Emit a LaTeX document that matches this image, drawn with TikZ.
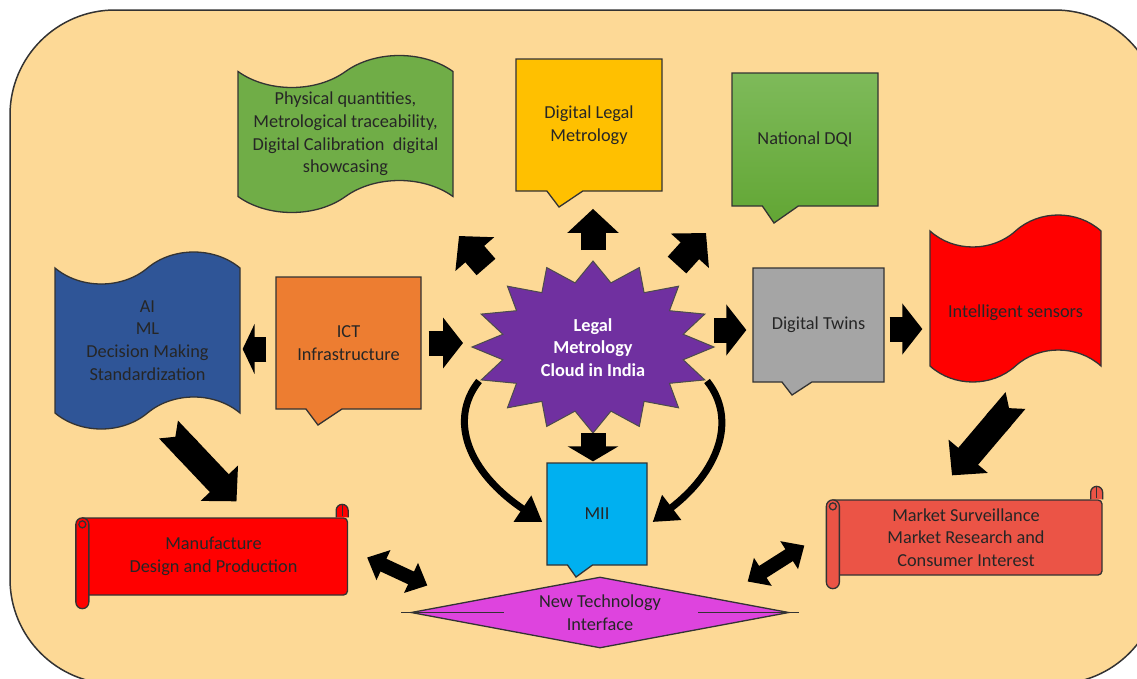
\documentclass[tikz,border=0pt]{standalone}
\usepackage{fontspec}
\setmainfont{Carlito}
\usetikzlibrary{arrows.meta,shapes.callouts,shapes.symbols,shapes.geometric,calc}
\definecolor{bgorange}{RGB}{253,217,150}
\definecolor{physgreen}{RGB}{112,173,71}
\definecolor{dlmyellow}{RGB}{255,192,0}
\definecolor{dqitop}{RGB}{126,186,90}
\definecolor{dqibot}{RGB}{98,166,52}
\definecolor{ictorange}{RGB}{237,125,49}
\definecolor{aiblue}{RGB}{47,85,151}
\definecolor{cloudpurple}{RGB}{112,48,160}
\definecolor{twinsgray}{RGB}{165,165,165}
\definecolor{sensorred}{RGB}{255,0,0}
\definecolor{miiblue}{RGB}{0,176,240}
\definecolor{ntimagenta}{RGB}{222,68,222}
\definecolor{marketred}{RGB}{235,84,70}
\newcommand{\lblfont}{\fontsize{18.3}{22.7}\selectfont}
\tikzset{
  callbox/.style={rectangle callout, draw=black!80, line width=1.3pt, font=\lblfont,
              text=black!85, align=center, inner sep=0pt, callout pointer width=36pt},
  wavebox/.style={tape, draw=black!80, line width=1.3pt, font=\lblfont, text=black!85,
              align=center, inner sep=0pt, tape bend height=32pt},
  scrollbox/.style={rectangle, draw=black!80, line width=1.3pt, rounded corners=4pt,
              font=\lblfont, text=black!85, align=center, inner sep=0pt},
  edgeline/.style={draw=black!80, line width=1.3pt},
  bigarrow/.style={line width=25pt, -{Triangle[length=20pt,width=50pt]}},
  notcharrow/.style={line width=26pt, {Triangle Cap[reversed,length=10pt]}-{Triangle[length=25pt,width=50pt]}},
  dblarrow/.style={line width=14pt, {Triangle[length=18pt,width=32pt]}-{Triangle[length=18pt,width=32pt]}},
  bendarrow/.style={line width=7pt, -{Triangle[length=24pt,width=30pt]}},
}

\begin{document}
\begin{tikzpicture}[x=1pt, y=-1pt]
  \useasboundingbox (0,0) rectangle (1137,678);
  \begin{scope}
    \clip (0,0) rectangle (1137,678);
    \draw[fill=bgorange, draw=black!80, line width=1.5pt, rounded corners=105pt] (10,10) rectangle (1160,684);
  \end{scope}

  % top row
  \node[wavebox, fill=physgreen, minimum width=215pt, minimum height=157pt] (phys) at (345.5,134)
    {Physical quantities,\\Metrological traceability,\\Digital Calibration\ \ digital\\showcasing};
  \node[callbox, fill=dlmyellow, minimum width=146pt, minimum height=132pt,
        callout absolute pointer={(559,207)}] (dlm) at (589,125) {Digital Legal\\Metrology};
  \node[callbox, top color=dqitop, bottom color=dqibot, minimum width=146pt, minimum height=133pt,
        callout absolute pointer={(774,223)}] (dqi) at (805,139.5) {National DQI};

  % middle row
  \node[wavebox, fill=aiblue, minimum width=185pt, minimum height=177pt] (aiml) at (147.5,340.5)
    {AI\\ML\\Decision Making\\Standardization};
  \node[callbox, fill=ictorange, minimum width=145pt, minimum height=132pt,
        callout absolute pointer={(318,425)}] (ict) at (348.5,343) {ICT\\Infrastructure};

  \filldraw[fill=cloudpurple, draw=black!70, line width=1pt]
    plot[samples=33, domain=0:32, variable=\k]
      ({593+121*(mod(round(\k),2)==0 ? 1 : 0.76)*sin(\k*11.25)},
       {347-86*(mod(round(\k),2)==0 ? 1 : 0.76)*cos(\k*11.25)}) -- cycle;
  \coordinate (cloudN) at (593,261);
  \coordinate (cloudS) at (593,433);
  \coordinate (cloudW) at (472,347);
  \coordinate (cloudE) at (714,347);
  \coordinate (cloudSW) at (479,381);
  \coordinate (cloudSE) at (707,381);
  \node[font=\lblfont\bfseries, text=white, align=center] (cloud) at (593,347.5)
    {Legal\\Metrology\\Cloud in India};

  \node[callbox, fill=twinsgray, minimum width=131pt, minimum height=114pt, callout pointer width=30pt,
        callout absolute pointer={(792,395)}] (twins) at (818.5,325) {Digital Twins};
  \node[wavebox, fill=sensorred, minimum width=171pt, minimum height=167pt,
        text height=42pt, text depth=4pt] (sensors) at (1015.5,298.5) {Intelligent sensors};

  % bottom row
  \node[callbox, fill=miiblue, minimum width=100pt, minimum height=102pt, callout pointer width=25pt,
        callout absolute pointer={(576,577)}] (mii) at (597,514) {MII};
  \node[diamond, aspect=5.3, draw=black!80, line width=1.3pt, fill=ntimagenta, minimum width=378pt,
        minimum height=71pt, inner sep=0pt, font=\lblfont, text=black!85, align=center] (nti) at (600,612.5)
    {New Technology\\Interface};
  \draw[edgeline] (nti.west) ++(-9,0) -- ++(103,0);
  \draw[edgeline] (nti.east) ++(9,0) -- ++(-101,0);

  \node[scrollbox, fill=sensorred, minimum width=268pt, minimum height=77pt] (manu) at (213.5,556.5)
    {Manufacture\\Design and Production};
  \filldraw[edgeline, fill=sensorred] ($(manu.north east)+(-12,0)$) -- ++(0,-7)
    arc[start angle=180, end angle=0, radius=6pt] -- ++(0,7);
  \draw[edgeline] ($(manu.north east)+(-6,-1)$) -- ++(0,-11);
  \filldraw[edgeline, fill=sensorred] ($(manu.north west)+(-3,7)$) -- ($(manu.south west)+(-3,6.5)$)
    arc[start angle=180, end angle=360, radius=6.5pt] -- ($(manu.north west)+(10,7)$)
    arc[start angle=0, end angle=180, radius=6.5pt] -- cycle;
  \draw[edgeline] ($(manu.north west)+(3.5,7)$) circle[radius=3.5pt];

  \node[scrollbox, fill=marketred, minimum width=272pt, minimum height=75pt] (market) at (966,537.5)
    {Market Surveillance\\Market Research and\\Consumer Interest};
  \filldraw[edgeline, fill=marketred] ($(market.north east)+(-12,0)$) -- ++(0,-7)
    arc[start angle=180, end angle=0, radius=6pt] -- ++(0,7);
  \draw[edgeline] ($(market.north east)+(-6,-1)$) -- ++(0,-11);
  \filldraw[edgeline, fill=marketred] ($(market.north west)+(-3,7)$) -- ($(market.south west)+(-3,6.5)$)
    arc[start angle=180, end angle=360, radius=6.5pt] -- ($(market.north west)+(10,7)$)
    arc[start angle=0, end angle=180, radius=6.5pt] -- cycle;
  \draw[edgeline] ($(market.north west)+(3.5,7)$) circle[radius=3.5pt];

  % block arrows
  \coordinate (nwtail) at (486,267);
  \coordinate (nwtip) at (459,236);
  \coordinate (netail) at (677,265);
  \coordinate (netip) at (706,233);
  \draw[bigarrow, -{Triangle[length=24pt,width=50pt]}] (nwtail) -- (nwtip);
  \draw[bigarrow, -{Triangle[length=24pt,width=50pt]}] (netail) -- (netip);
  \draw[bigarrow, -{Triangle[length=24pt,width=50pt]}, shorten <=11pt, shorten >=1pt] (cloudN) -- (cloudN |- dlm.pointer);
  \draw[bigarrow, shorten <=7pt, shorten >=9pt] (ict.east) -- (ict.east -| cloudW);
  \draw[bigarrow, -{Triangle[length=12pt,width=50pt]}, shorten <=9pt, shorten >=2pt]
    ($(ict.west)+(0,6)$) -- ($(ict.west -| aiml.east)+(0,6)$);
  \draw[bigarrow, shorten >=6pt] ($(twins.west -| cloudE)+(0,5)$) -- ($(twins.west)+(0,5)$);
  \draw[bigarrow, shorten <=5pt, shorten >=7pt] ($(twins.east)+(0,4)$) -- ($(twins.east -| sensors.west)+(0,4)$);
  \draw[bigarrow, -{Triangle[length=15pt,width=50pt]}, shorten >=1pt] (cloudS) -- (cloudS |- mii.north);
  \draw[bendarrow] (cloudSW) .. controls (448,420) and (468,472) .. ($(mii.west)+(-4,8)$);
  \draw[bendarrow] (cloudSE) .. controls (738,420) and (718,472) .. ($(mii.east)+(5,8)$);
  \draw[notcharrow] ($(aiml.center)+(21,89)$) -- ($(manu.north)+(23,-16)$);
  \draw[notcharrow] ($(sensors.center)+(0,102)$) -- ($(market.north)+(-14,-24)$);
  \draw[dblarrow] ($(manu.east)+(19,1)$) -- ($(nti.west)+(17,-27)$);
  \draw[dblarrow] ($(nti.east)+(-42,-31)$) -- ($(market.west)+(-25,8)$);
\end{tikzpicture}
\end{document}
